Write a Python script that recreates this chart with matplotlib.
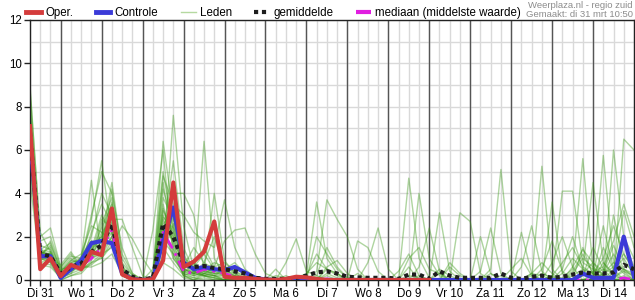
import numpy as np
import matplotlib
matplotlib.use('Agg')
import matplotlib.pyplot as plt
from matplotlib.lines import Line2D

plt.rcParams['font.family'] = ['Liberation Sans', 'DejaVu Sans']

# 6-hourly steps starting Di 31 06:00, last step Wo 15 00:00
day_labels = ['Di 31', 'Wo 1', 'Do 2', 'Vr 3', 'Za 4', 'Zo 5', 'Ma 6', 'Di 7',
              'Wo 8', 'Do 9', 'Vr 10', 'Za 11', 'Zo 12', 'Ma 13', 'Di 14']
steps = np.arange(60)

# operational run (only 10 days)
oper = [7.1, 0.5, 1.0,  0.18, 0.7, 0.5, 1.3,  1.15, 3.3, 0.26, 0.03,  0, 0.03, 0.9, 4.5,
        0.6, 0.85, 1.3, 2.7,  0.15, 0.1, 0.1, 0.05,  0.02, 0, 0.05, 0.15,  0.12, 0.05, 0, 0,
        0, 0, 0, 0,  0, 0, 0, 0,  0]
controle = [6.5, 1.1, 1.1,  0.1, 0.5, 0.9, 1.7,  1.8, 1.7, 0.3, 0.05,  0, 0.05, 1.8, 3.35,
            0.8, 0.5, 0.6, 0.5,  0.45, 0.6, 0.35, 0.1,  0.02, 0, 0, 0,  0, 0, 0, 0,
            0, 0, 0, 0,  0, 0, 0, 0,  0, 0, 0, 0,  0, 0, 0, 0,  0, 0, 0, 0,
            0, 0, 0, 0.3,  0.1, 0.1, 0.1, 2.0,  0.15]
gemiddelde = [6.8, 1.2, 1.1,  0.3, 0.6, 0.75, 1.3,  1.6, 2.6, 0.5, 0.15,  0.02, 0.1, 2.6, 2.0,
              0.75, 0.6, 0.65, 0.55,  0.5, 0.4, 0.3, 0.1,  0.05, 0.05, 0.05, 0.1,  0.2, 0.35, 0.4, 0.3,
              0.15, 0.12, 0.1, 0.1,  0.1, 0.05, 0.25, 0.25,  0.05, 0.4, 0.2, 0.1,  0.1, 0.1, 0.1, 0.3,
              0.1, 0.05, 0.15, 0.2,  0.1, 0.15, 0.25, 0.35,  0.3, 0.3, 0.35, 0.7,  0.5]
mediaan = [6.5, 1.1, 1.0,  0.2, 0.5, 0.65, 1.0,  1.5, 2.3, 0.35, 0.05,  0, 0.05, 2.2, 1.4,
           0.4, 0.3, 0.5, 0.4,  0.3, 0.15, 0.05, 0,  0, 0, 0, 0,  0, 0, 0.05, 0,
           0, 0, 0, 0,  0, 0, 0, 0,  0, 0, 0, 0,  0, 0, 0, 0,  0, 0, 0, 0,
           0, 0, 0, 0,  0, 0, 0, 0.1,  0]

# ensemble members (Leden)
m01 = [8.5, 1.2, 1.0,  .3, .6, .8, 1.5,  2.0, 3.0, .5, .1,  0, 0, 3.0, 2.0,  .5, .3, .5, .4,  .6, .3, .1, 0,  0, 0, 0, .1,  .3, .8, .5, .2,
       0, 0, 0, 0,  0, 0, .2, .1,  0, .3, 0, 0,  0, 0, 0, .2,  0, 0, 0, .3,  .1, 0, .4, 1.2,  .3, 0, .5, 1.0,  .2]
m02 = [6.0, 1.4, 1.3,  .2, .4, .7, 2.2,  3.5, 2.6, .3, 0,  0, .1, 4.2, 2.5,  .8, .6, 1.2, .5,  .4, .2, 0, 0,  0, 0, 0, 0,  0, .2, 1.5, .6,
       .1, 0, 0, 0,  0, 0, 0, 0,  0, 0, 0, 0,  0, .1, 0, 0,  0, 0, 0, 0,  0, 0, 0, .3,  .8, .4, 1.6, .5,  .1]
m03 = [7.5, 1.0, 1.8,  .5, 1.0, .6, 1.0,  1.5, 4.2, 1.0, .2,  0, 0, 2.0, 5.5,  1.5, .4, .3, .2,  .5, .8, .3, .1,  0, 0, 0, 0,  0, 0, .2, 0,
       0, 0, 0, 0,  0, 0, 4.7, 1.0,  .1, 0, 0, 0,  0, 0, 0, 0,  0, 0, 0, 0,  0, 0, 0, .2,  .4, .6, 1.8, 3.5,  2.0]
m04 = [5.0, .8, .7,  .1, .3, .9, 2.8,  5.5, 2.0, .4, 0,  0, 0, 1.8, 1.2,  .3, .1, 0, 0,  0, 0, 0, 0,  0, .2, .1, 0,  .2, 3.6, 1.0, .3,
       0, 0, 0, 0,  0, 0, 0, 0,  0, .5, .2, 0,  0, 0, 0, 0,  0, 0, .3, .2,  0, 0, 0, 0,  0, .2, .1, .4,  0]
m05 = [9.0, 2.0, 2.4,  .6, 1.2, .5, .8,  1.2, 1.5, 2.5, 1.9,  1.0, .3, 2.6, 3.0,  .4, .2, 6.4, 1.0,  .2, 0, 0, 0,  0, 0, 0, 0,  0, 0, 0, 0,
       0, 0, 0, 0,  0, 0, 0, .2,  0, 0, 0, 0,  0, 0, .5, 5.1,  .4, 0, 0, 0,  0, 0, .2, .5,  .3, .2, .1, .5,  .3]
m06 = [6.8, 1.1, .9,  .1, .5, .6, 1.2,  1.8, 3.3, .2, 0,  0, .2, 6.4, 3.0,  .6, 1.5, .8, 2.0,  .5, .2, 0, 0,  0, 0, 0, 0,  0, 0, .3, .1,
       0, 0, 0, 0,  0, 0, 0, 0,  0, 3.1, .4, 0,  0, 0, 0, 0,  0, 0, .2, 0,  0, 0, 0, 0,  .2, .5, .3, 2.0,  1.0]
m07 = [7.2, 1.3, 1.2,  .4, .8, 1.0, 4.6,  1.0, 1.8, .3, .1,  0, 0, 1.0, 7.6,  2.5, .5, .2, 0,  0, 0, 0, 0,  0, 0, 0, 0,  0, 0, 0, 0,
       0, .3, 0, 0,  0, 0, 0, 0,  0, 0, 0, 0,  0, 0, 0, 0,  0, 0, 0, 0,  0, .1, .5, 5.6,  .5, .3, .6, 1.2,  .4]
m08 = [5.5, .9, 1.1,  .3, .6, .7, 1.0,  2.2, 2.8, 2.8, 1.5,  .2, 0, 3.5, 1.5,  .2, 0, .3, .6,  1.8, 2.3, 2.4, 1.2,  .3, .1, 0, 0,  0, 0, 0, 0,
       0, 0, 0, 0,  0, 0, 0, 0,  0, 0, .8, .3,  0, 0, 0, 0,  .5, 1.0, .2, 0,  0, 0, 0, 0,  0, 0, 0, .2,  0]
m09 = [6.2, 1.5, .8,  0, .2, .4, .9,  2.6, 3.8, .6, 0,  0, 0, 2.2, 4.0,  4.0, 3.0, .5, .2,  0, 0, 0, 0,  0, 0, 0, 0,  0, .4, 3.7, 2.8,
       2.0, .5, 0, 0,  0, 0, 0, 0,  0, 0, 0, 0,  0, 0, .3, 0,  0, .6, 2.5, .4,  0, 0, 0, 0,  0, 0, .3, 0,  0]
m10 = [7.8, 1.2, 1.5,  .2, .4, 1.1, 1.8,  1.4, 2.4, .4, .1,  0, 0, 2.8, 1.8,  .8, .2, .4, 4.0,  .9, .3, 0, 0,  0, 0, 0, 0,  0, 0, 0, 0,
       0, 0, 0, 0,  0, 0, 0, 0,  0, 0, 0, 0,  0, 0, 0, 0,  0, 0, 0, 5.25,  .5, 0, 0, 0,  0, 0, 0, 0,  0]
m11 = [6.5, 1.0, .9,  .2, .7, .9, 1.4,  3.0, 2.2, .8, .2,  0, 0, 3.2, 2.2,  .9, .6, .3, .5,  .3, .6, .2, 0,  0, 0, .8, 1.9,  .4, .2, 0, 0,
       0, 0, 0, 0,  0, 0, 0, 0,  0, 0, 0, 0,  0, 0, 0, 0,  0, 0, 0, 0,  .2, .8, 1.5, .6,  .3, 1.0, 2.5, 1.2,  .5]
m12 = [8.0, 1.6, 1.4,  .4, .9, .8, 1.1,  1.6, 2.5, .5, 0,  0, 0, 2.4, 1.0,  .3, .8, .4, .3,  .2, 0, 0, 0,  0, 0, 0, 0,  0, 0, 0, 0,
       0, 0, .8, 2.4,  .5, 0, 0, 0,  0, 0, 0, 0,  0, 0, 0, 0,  0, 0, .3, .8,  .3, 0, 0, .2,  1.5, .5, 0, 0,  0]
m13 = [4.5, .7, .6,  .1, .3, .5, .7,  1.1, 2.0, .2, 0,  0, 0, 1.5, .8,  .2, .1, .3, .2,  .1, 0, 0, 0,  0, 0, 0, 0,  0, 0, 0, 0,
       0, 0, 0, 0,  0, 0, 0, 0,  0, 0, 0, 3.1,  2.7, .3, 0, 0,  0, 0, 0, 0,  0, 0, 0, 0,  0, .3, .8, .3,  0]
m14 = [7.0, 1.2, 1.0,  .7, 1.3, .6, .6,  .8, 1.2, .3, 0,  0, 0, 1.2, 2.6,  .5, .3, .8, .5,  .3, .2, 0, 0,  0, 0, 0, 0,  0, 0, 0, 0,
       0, 0, 0, 0,  0, 0, 0, 0,  0, 0, 0, 0,  0, .4, 2.4, .3,  0, 0, 0, 0,  3.6, .3, 0, 0,  0, .8, .3, 1.8,  .6]
m15 = [6.0, 1.3, 1.2,  .3, .5, .7, 1.3,  2.4, 3.5, .4, 0,  0, 0, 4.5, 1.6,  .5, .4, .2, .1,  0, 0, 0, 0,  0, 0, 0, 0,  0, 0, .5, .3,
       0, 0, 0, 0,  0, 0, 0, 0,  0, 0, 0, 0,  0, 0, 0, 0,  0, 0, 0, 0,  0, 4.1, 4.1, .8,  .5, 0, 0, 0,  0]
m16 = [7.4, 1.1, 1.6,  .5, .6, 1.0, 2.0,  4.0, 3.0, .6, .1,  0, 0, 3.8, 2.8,  .6, .5, .6, .3,  .4, .3, 0, 0,  0, 0, 0, 0,  0, 0, 0, 0,
       0, 0, 0, 0,  0, 0, 0, 4.0,  1.0, .2, 0, 0,  0, 0, 0, 0,  0, 0, 0, 0,  0, 0, 0, 0,  0, 0, 6.0, 2.0,  .3]
m17 = [6.6, .9, 1.3,  .2, .5, .9, 1.6,  2.0, 4.5, 1.2, .3,  0, .5, 5.0, 2.2,  1.0, .7, 1.5, .6,  .8, .4, .1, 0,  0, 0, 0, 0,  0, 0, 0, 0,
       0, 0, 0, 0,  0, 0, 0, 0,  0, 0, 0, 0,  0, 0, 0, 0,  0, 0, 0, 0,  0, .3, 1.0, .5,  4.5, .8, .2, 0,  0]
m18 = [7.0, 1.1, 1.1,  .3, .6, .8, 1.2,  1.5, 2.2, .3, 0,  0, 0, 2.0, 1.4,  .3, .2, .3, .2,  .2, .1, 0, 0,  0, 0, 0, 0,  0, 0, 0, 0,
       0, 0, 0, 0,  0, .4, 1.2, .2,  0, 0, 0, 0,  0, 0, 0, 0,  0, 0, 0, 0,  0, 0, 0, 0,  .3, 5.75, .8, .5,  .2]
m19 = [5.8, 1.0, .8,  .2, .4, .6, 1.0,  1.3, 2.0, .4, 0,  0, 2.3, 6.0, 1.0,  .4, .3, .2, .1,  0, 0, 0, 0,  0, 0, 0, 0,  .2, 1.2, .5, .3,
       0, 0, 0, 0,  0, 0, 0, 0,  0, 0, 0, 0,  0, 0, 0, 0,  0, 2.2, .3, 0,  0, 0, 0, 0,  0, 0, 0, 6.5,  6.0]
m20 = [7.6, 1.2, 1.2,  .2, .7, .7, 1.2,  2.8, 2.4, .2, 0,  0, 0, 2.5, 1.8,  .2, 0, .2, .2,  0, 0, 0, 0,  0, 0, 0, 0,  0, 0, 0, 0,
       0, 0, 0, 0,  0, 0, 0, .6,  2.4, .4, 0, 0,  0, 0, 0, 0,  0, 0, 0, 0,  .2, 0, .6, 1.4,  .8, .2, 0, 0,  0]
m21 = [6.4, 1.1, 1.0,  .4, .5, .7, 1.0,  1.2, 2.7, .3, 0,  0, 0, 2.3, 1.2,  .2, .4, .2, .1,  0, 0, 0, 0,  0, 0, 0, 0,  0, 2.0, 1.2, .5,
       .1, 0, 0, 0,  0, 0, 0, 0,  0, 0, 0, 0,  0, 2.0, .3, 0,  0, 0, 0, 0,  0, 0, 0, 0,  0, .3, 1.2, .4,  .2]
m22 = [6.9, 1.3, 1.1,  .3, .6, .9, 1.8,  1.7, 2.9, .4, 0,  0, 0, 2.9, 2.4,  .5, .3, .4, .3,  .3, .2, 0, 0,  0, 0, 0, 0,  0, 0, 0, 0,
       0, 1.8, 1.5, .4,  0, 0, 0, 0,  0, 0, 0, 0,  0, 0, 0, 0,  0, 0, 0, 0,  .8, 2.0, .6, 0,  0, 0, 3.0, .8,  .4]
m23 = [5.2, 1.8, 2.0,  .6, 1.1, 1.0, 3.0,  5.0, 4.0, 1.5, .3,  0, .2, 4.8, 3.5,  3.0, 2.2, 1.8, 1.5,  3.7, 1.5, .5, .1,  0, .5, 0, 0,  0, 0, 0, 0,
       0, 0, 0, 0,  0, 0, 0, 0,  0, 0, 0, 0,  0, 0, 0, 0,  0, 0, 0, 0,  0, 0, 0, 1.5,  .2, 2.5, .5, 3.2,  1.5]
m24 = [8.8, 2.2, 1.3,  .3, .8, .9, 1.4,  1.9, 3.6, .7, 0,  0, 0, 3.3, 2.0,  .7, .6, .5, .8,  .6, .4, .2, 0,  0, 0, 0, 0,  0, 0, 0, 0,
       0, 0, 0, 0,  0, 0, 1.0, 1.5,  .5, .3, 0, 0,  0, 0, 0, 0,  0, 0, 0, 0,  0, .5, 2.0, .5,  0, 0, 0, 0,  0]
m25 = [7.3, 1.4, 1.7,  .4, .9, 1.2, 2.5,  2.2, 1.8, .5, 0,  0, 0, 1.6, 2.9,  1.2, .3, .2, .4,  .2, 0, 0, 0,  0, 0, .2, 0,  0, 0, .6, .9,
       .3, 0, 0, 0,  0, 0, 0, 0,  0, 0, .6, .2,  0, 0, 0, 0,  0, 0, 0, 0,  0, 0, .3, 1.0,  .6, .2, 0, 0,  0]
m26 = [6.3, .8, 1.0,  0, .2, .3, .8,  1.0, 1.6, .2, 0,  0, 0, .8, .5,  .1, 0, .1, 0,  0, 0, 0, 0,  0, 0, 0, 0,  0, 0, 0, 0,
       0, 0, 0, 0,  0, 0, .6, 0,  0, 0, 0, 0,  0, 0, 0, 0,  0, 0, 0, .5,  1.8, .4, 0, 0,  0, 1.5, .5, 0,  0]
leden = [m01, m02, m03, m04, m05, m06, m07, m08, m09, m10, m11, m12, m13,
         m14, m15, m16, m17, m18, m19, m20, m21, m22, m23, m24, m25, m26]

c_oper = '#d43c3c'
c_ctrl = '#3b3bd8'
c_leden = '#3f9a1c'
c_mean = '#1e1e1e'
c_med = '#e01ee0'

fig = plt.figure(figsize=(6.35, 3.0), dpi=100)
ax = fig.add_axes([30 / 635, 20 / 300, 604 / 635, 260 / 300])

for m in leden:
    ax.plot(steps, m, color=c_leden, alpha=0.42, lw=1, zorder=2)
ax.plot(steps, mediaan, color=c_med, lw=2, dashes=(4, 2, 1, 2), zorder=3)
ax.plot(steps, controle, color=c_ctrl, lw=3, zorder=4)
ax.plot(steps, gemiddelde, color=c_mean, lw=3, dashes=(1, 0.9), zorder=5)
ax.plot(steps[:len(oper)], oper, color=c_oper, lw=3, zorder=6)

ax.set_xlim(0, 59)
ax.set_ylim(0, 12)

# grid: light every 6 h / 1 mm, dark at midnight
ax.set_xticks(steps, minor=True)
ax.set_xticks(steps[1::4][:len(day_labels)])
ax.set_xticklabels(day_labels)
ax.set_yticks(range(0, 13, 2))
ax.set_yticks(range(0, 13), minor=True)
ax.grid(which='both', color='#d9d9d9', lw=1, zorder=0)
ax.set_axisbelow(True)
for d in steps[3::4]:
    if d < 59:
        ax.axvline(d, color='#555555', lw=1, zorder=1)

ax.tick_params(axis='x', which='both', direction='out', length=4, width=1,
               color='#222222', labelsize=8.3, pad=1.5)
ax.tick_params(axis='y', which='major', direction='out', length=4, width=1,
               color='#222222', labelsize=8.3, pad=2)
ax.tick_params(axis='y', which='minor', length=0)
for s in ax.spines.values():
    s.set_color('#222222')
    s.set_linewidth(1)

handles = [Line2D([], [], color=c_oper, lw=3.5),
           Line2D([], [], color=c_ctrl, lw=3.5),
           Line2D([], [], color='#b5d9a0', lw=1),
           Line2D([], [], color=c_mean, lw=3, dashes=(1, 0.9)),
           Line2D([], [], color=c_med, lw=3, dashes=(5, 1, 0.6, 1))]
labels = ['Oper.', 'Controle', 'Leden', 'gemiddelde', 'mediaan (middelste waarde)']
fig.legend(handles, labels, loc='upper left', bbox_to_anchor=(26 / 635, 1 - 7 / 300),
           ncol=5, frameon=False, fontsize=8.3, handlelength=1.3, handletextpad=0.35,
           columnspacing=1.95, borderpad=0, borderaxespad=0)

fig.text(633 / 635, 1 - 8 / 300, 'Weerplaza.nl - regio zuid', ha='right', va='baseline',
         fontsize=6.8, color='#8c8c8c')
fig.text(633 / 635, 1 - 17 / 300, 'Gemaakt: di 31 mrt 10:50', ha='right', va='baseline',
         fontsize=6.8, color='#8c8c8c')

fig.savefig('out.png', dpi=100)
